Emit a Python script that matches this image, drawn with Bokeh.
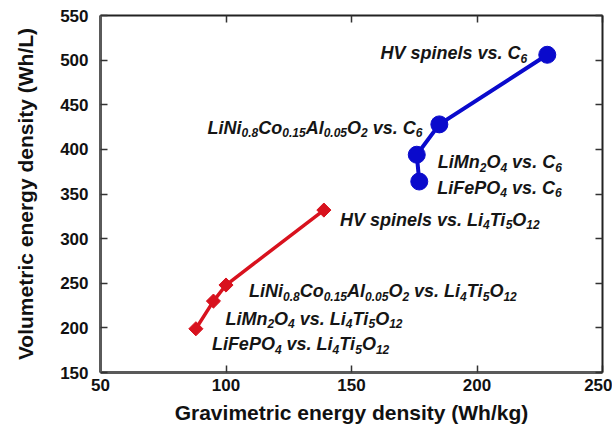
from bokeh.plotting import figure
from bokeh.models import LinearAxis, FixedTicker, ColumnDataSource
from bokeh.core.properties import value
from bokeh.embed import file_html
from bokeh.resources import INLINE

# ---- data ----
c6_names = ["HV spinels", "LiNi0.8Co0.15Al0.05O2", "LiMn2O4", "LiFePO4"]
c6_grav = [228, 185, 176, 177]
c6_vol = [506, 428, 394, 364]

lto_names = ["HV spinels", "LiNi0.8Co0.15Al0.05O2", "LiMn2O4", "LiFePO4"]
lto_grav = [139, 100, 95, 88]
lto_vol = [332, 248, 230, 199]

x_ticks = [50, 100, 150, 200, 250]
y_ticks = [150, 200, 250, 300, 350, 400, 450, 500, 550]

# label text segments: (text, is_subscript)
c6_labels = [
    [("HV spinels vs. C", 0), ("6", 1)],
    [("LiNi", 0), ("0.8", 1), ("Co", 0), ("0.15", 1), ("Al", 0), ("0.05", 1),
     ("O", 0), ("2", 1), (" vs. C", 0), ("6", 1)],
    [("LiMn", 0), ("2", 1), ("O", 0), ("4", 1), (" vs. C", 0), ("6", 1)],
    [("LiFePO", 0), ("4", 1), (" vs. C", 0), ("6", 1)],
]
lto_labels = [
    [("HV spinels vs. Li", 0), ("4", 1), ("Ti", 0), ("5", 1), ("O", 0), ("12", 1)],
    [("LiNi", 0), ("0.8", 1), ("Co", 0), ("0.15", 1), ("Al", 0), ("0.05", 1),
     ("O", 0), ("2", 1), (" vs. Li", 0), ("4", 1), ("Ti", 0), ("5", 1), ("O", 0), ("12", 1)],
    [("LiMn", 0), ("2", 1), ("O", 0), ("4", 1), (" vs. Li", 0), ("4", 1), ("Ti", 0), ("5", 1),
     ("O", 0), ("12", 1)],
    [("LiFePO", 0), ("4", 1), (" vs. Li", 0), ("4", 1), ("Ti", 0), ("5", 1), ("O", 0), ("12", 1)],
]
# label placement relative to marker (pixels): (align, x offset, y offset down)
c6_place = [("right", -20, -8), ("right", -17, -3), ("left", 21, 1), ("left", 18, 0)]
lto_place = [("left", 16, 3), ("left", 23, 0), ("left", 12, 11), ("left", 16, 9)]

# ---- style ----
FONT = "Liberation Sans"
MAIN_PX = 18
SUB_PX = 12
SUB_DROP = 5
BLUE = "#0a0acc"
RED = "#d8121e"

# Arial/Liberation Sans Bold advance widths (1/1000 em)
W = {" ": 278, ".": 278, "0": 556, "1": 556, "2": 556, "4": 556, "5": 556, "6": 556, "8": 556,
     "A": 722, "C": 722, "F": 611, "H": 722, "L": 611, "M": 833, "N": 722, "O": 778, "P": 667,
     "T": 611, "V": 667, "e": 556, "i": 278, "l": 278, "n": 611, "o": 611, "p": 611, "s": 556,
     "v": 556}


def tw(s, px):
    return sum(W.get(ch, 556) for ch in s) * px / 1000.0


def segments(xs, ys, labels, places):
    main = dict(x=[], y=[], text=[], xo=[], yo=[])
    subs = dict(x=[], y=[], text=[], xo=[], yo=[])
    for xv, yv, segs, (align, dx, dy) in zip(xs, ys, labels, places):
        total = sum(tw(t, SUB_PX if sub else MAIN_PX) for t, sub in segs)
        cur = dx if align == "left" else dx - total
        base = dy + 0.716 * MAIN_PX / 2
        for t, sub in segs:
            px = SUB_PX if sub else MAIN_PX
            stripped = t.lstrip(" ")
            lead = tw(t[:len(t) - len(stripped)], px)
            d = subs if sub else main
            d["x"].append(xv)
            d["y"].append(yv)
            d["text"].append(stripped)
            d["xo"].append(cur + lead)
            d["yo"].append(base + (SUB_DROP if sub else 0))
            cur += tw(t, px)
    return ColumnDataSource(main), ColumnDataSource(subs)


p = figure(width=612, height=427, x_range=(50, 250), y_range=(150, 550),
           output_backend="svg", toolbar_location=None,
           min_border_left=100, min_border_right=10, min_border_top=15, min_border_bottom=55)
p.outline_line_color = None
p.grid.visible = False
p.background_fill_color = "white"
p.border_fill_color = "white"

p.line(c6_grav, c6_vol, line_color=BLUE, line_width=4)
p.scatter(c6_grav, c6_vol, marker="circle", size=17, fill_color=BLUE, line_color=BLUE)
p.line(lto_grav, lto_vol, line_color=RED, line_width=3.5)
p.scatter(lto_grav, lto_vol, marker="square", angle=0.785398, size=10,
          fill_color=RED, line_color=RED)

for xs, ys, labels, places in ((c6_grav, c6_vol, c6_labels, c6_place),
                               (lto_grav, lto_vol, lto_labels, lto_place)):
    msrc, ssrc = segments(xs, ys, labels, places)
    for src, px in ((msrc, MAIN_PX), (ssrc, SUB_PX)):
        p.text(x="x", y="y", text="text", x_offset="xo", y_offset="yo",
               text_font_size=value("%dpx" % px),
               source=src, text_font=value(FONT), text_font_style="bold italic",
               text_color="#151515", text_baseline="alphabetic", text_align="left")

xa = p.xaxis[0]
ya = p.yaxis[0]
xa.ticker = FixedTicker(ticks=x_ticks)
ya.ticker = FixedTicker(ticks=y_ticks)
xa.axis_label = "Gravimetric energy density (Wh/kg)"
ya.axis_label = "Volumetric energy density (Wh/L)"
for ax in (xa, ya):
    ax.axis_line_color = "#5a5a5a"
    ax.axis_line_width = 3
    ax.major_tick_in = 7
    ax.major_tick_out = 0
    ax.major_tick_line_color = "#333333"
    ax.major_tick_line_width = 1.5
    ax.minor_tick_line_color = None
    ax.major_label_text_font = FONT
    ax.major_label_text_font_style = "bold"
    ax.major_label_text_font_size = "17px"
    ax.major_label_text_color = "#111111"
    ax.axis_label_text_font = FONT
    ax.axis_label_text_font_style = "bold"
    ax.axis_label_text_font_size = "21px"
    ax.axis_label_text_color = "#111111"
ya.major_label_standoff = 12
ya.axis_label_standoff = 20
xa.major_label_standoff = 6
xa.axis_label_standoff = 7

for loc, tk in (("above", x_ticks), ("right", y_ticks)):
    ax = LinearAxis(ticker=FixedTicker(ticks=tk))
    ax.axis_line_color = "#222222"
    ax.axis_line_width = 2
    ax.major_tick_in = 7
    ax.major_tick_out = 0
    ax.major_tick_line_color = "#333333"
    ax.major_tick_line_width = 1.5
    ax.minor_tick_line_color = None
    ax.major_label_overrides = {t: "" for t in tk}
    ax.major_label_text_font_size = "8px"
    ax.major_label_standoff = 0
    p.add_layout(ax, loc)

open("out.html", "w").write(file_html(p, INLINE))
